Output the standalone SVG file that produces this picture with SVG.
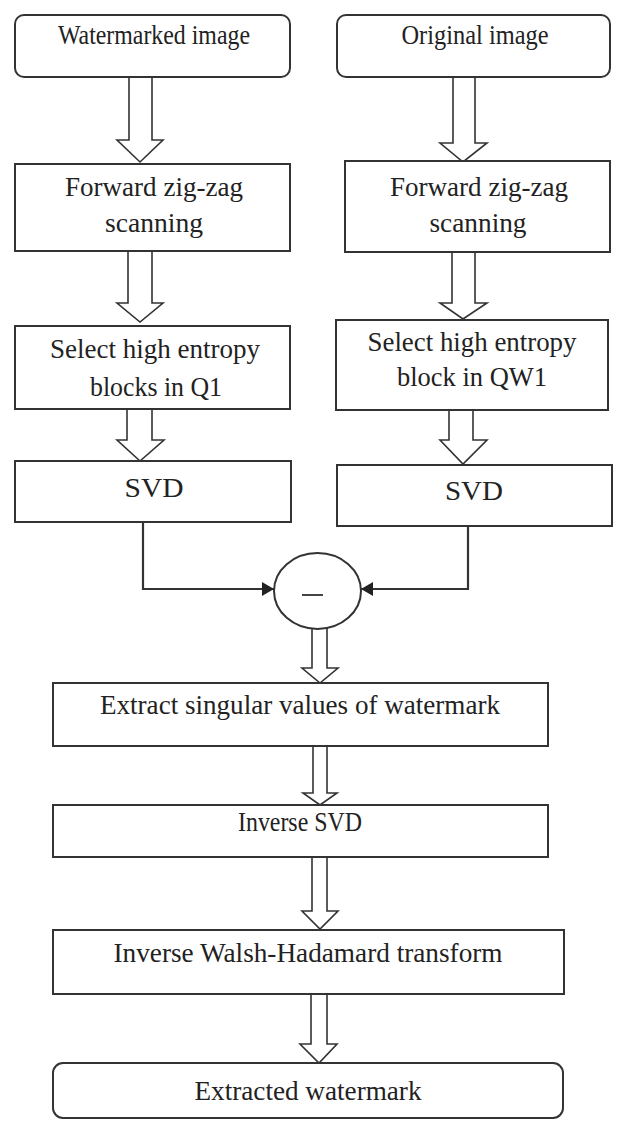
<svg xmlns="http://www.w3.org/2000/svg" width="618" height="1121" viewBox="0 0 618 1121">
<defs>
<style>
.box{fill:#fff;stroke:#333;stroke-width:2}
.blk{fill:#fff;stroke:#333;stroke-width:1.6;stroke-linejoin:miter}
.con{fill:none;stroke:#333;stroke-width:2.2}
text{font-family:"Liberation Serif","Times New Roman",serif;font-size:27px;fill:#222;text-anchor:middle}
</style>
<marker id="ah" viewBox="0 0 12 14" refX="12" refY="7" markerWidth="12" markerHeight="14" markerUnits="userSpaceOnUse" orient="auto">
<path d="M0,0 L12,7 L0,14 Z" fill="#222"/>
</marker>
</defs>
<rect width="618" height="1121" fill="#fff"/>

<g id="connectors">
<path class="blk" d="M129,77 V140 H117 L140,162 L163,140 H152 V77"/>
<path class="blk" d="M453,78 V143 H440 L463,162 L487,143 H475 V78"/>
<path class="blk" d="M128,251 V303 H117 L140,322 L163,303 H152 V251"/>
<path class="blk" d="M452,252 V303 H440 L463,319 L487,303 H475 V252"/>
<path class="blk" d="M127,409 V440 H117 L140,461 L164,440 H152 V409"/>
<path class="blk" d="M449,410 V440 H440 L463,464 L487,440 H473 V410"/>
<path class="con" d="M143,522 V589 H274" marker-end="url(#ah)"/>
<path class="con" d="M468,526 V589 H361" marker-end="url(#ah)"/>
<path class="blk" d="M312,628 V668 H302 L320,683 L338,668 H327 V628"/>
<path class="blk" d="M313,746 V793 H303 L320,805 L337,793 H327 V746"/>
<path class="blk" d="M312,857 V911 H302 L320,929 L338,911 H327 V857"/>
<path class="blk" d="M311,994 V1044 H300 L319,1063 L337,1044 H327 V994"/>
</g>

<g id="watermarked-image">
<rect class="box" x="15" y="15" width="275" height="62" rx="9"/>
<text x="154" y="44" textLength="192" lengthAdjust="spacingAndGlyphs">Watermarked image</text>
</g>
<g id="original-image">
<rect class="box" x="337" y="15" width="273" height="62" rx="9"/>
<text x="475" y="44" textLength="147" lengthAdjust="spacingAndGlyphs">Original image</text>
</g>
<g id="forward-left">
<rect class="box" x="15" y="164" width="275" height="87"/>
<text x="154" y="196" textLength="178" lengthAdjust="spacingAndGlyphs">Forward zig-zag</text>
<text x="154" y="232" textLength="98" lengthAdjust="spacingAndGlyphs">scanning</text>
</g>
<g id="forward-right">
<rect class="box" x="345" y="161" width="265" height="91"/>
<text x="479" y="196" textLength="178" lengthAdjust="spacingAndGlyphs">Forward zig-zag</text>
<text x="478" y="232" textLength="97" lengthAdjust="spacingAndGlyphs">scanning</text>
</g>
<g id="select-left">
<rect class="box" x="15" y="326" width="275" height="83"/>
<text x="155" y="358" textLength="210" lengthAdjust="spacingAndGlyphs">Select high entropy</text>
<text x="156" y="396" textLength="132" lengthAdjust="spacingAndGlyphs">blocks in Q1</text>
</g>
<g id="select-right">
<rect class="box" x="336" y="320" width="272" height="90"/>
<text x="472" y="351" textLength="209" lengthAdjust="spacingAndGlyphs">Select high entropy</text>
<text x="472" y="386" textLength="150" lengthAdjust="spacingAndGlyphs">block in QW1</text>
</g>
<g id="svd-left">
<rect class="box" x="15" y="461" width="276" height="61"/>
<text x="154" y="497" textLength="59" lengthAdjust="spacingAndGlyphs">SVD</text>
</g>
<g id="svd-right">
<rect class="box" x="337" y="465" width="275" height="61"/>
<text x="474" y="500" textLength="58" lengthAdjust="spacingAndGlyphs">SVD</text>
</g>
<g id="subtract">
<ellipse cx="317.5" cy="591" rx="43.5" ry="38" fill="#fff" stroke="#333" stroke-width="2"/>
<line x1="302" y1="595" x2="323" y2="595" stroke="#444" stroke-width="2"/>
</g>
<g id="extract-singular">
<rect class="box" x="53" y="683" width="495" height="63"/>
<text x="300" y="714" textLength="400" lengthAdjust="spacingAndGlyphs">Extract singular values of watermark</text>
</g>
<g id="inverse-svd">
<rect class="box" x="53" y="805" width="495" height="52"/>
<text x="300" y="831" textLength="124" lengthAdjust="spacingAndGlyphs">Inverse SVD</text>
</g>
<g id="inverse-walsh">
<rect class="box" x="53" y="930" width="511" height="64"/>
<text x="308" y="962" textLength="389" lengthAdjust="spacingAndGlyphs">Inverse Walsh-Hadamard transform</text>
</g>
<g id="extracted-watermark">
<rect class="box" x="53" y="1063" width="510" height="55" rx="10"/>
<text x="308" y="1100" textLength="227" lengthAdjust="spacingAndGlyphs">Extracted watermark</text>
</g>
</svg>
